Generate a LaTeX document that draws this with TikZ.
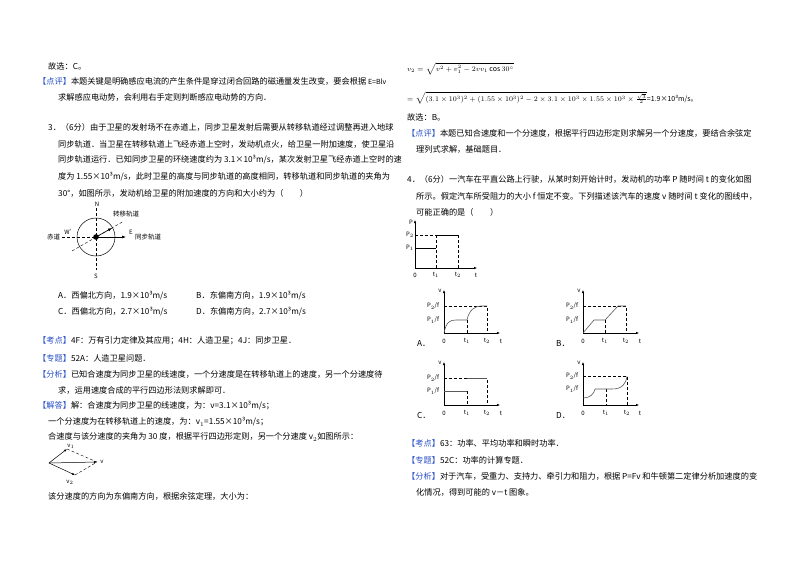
\documentclass[tikz,border=0pt]{standalone}
\usepackage{fontspec}
\setmainfont{Noto Sans CJK SC}
\usetikzlibrary{arrows.meta}
\definecolor{hb}{RGB}{40,80,200}
\newcommand{\hb}[1]{\textcolor{hb}{【#1】}}
\begin{document}
\begin{tikzpicture}[x=1pt,y=-1pt,
  t/.style={anchor=west,inner sep=0pt,font=\fontsize{8.2}{10}\selectfont},
  s/.style={inner sep=0pt,font=\fontsize{6}{7}\selectfont\itshape},
  ax/.style={line width=0.5pt,-{Latex[length=3pt,width=2.5pt]}},
  dsh/.style={densely dashed,line width=0.4pt},
  cur/.style={line width=0.6pt,gray!70!black}]
\useasboundingbox[fill=white] (0,0) rectangle (800,565);
% left column
\node[t] (l1) at (48,66) {故选：C。};
\node[t] (l2) at (38,81) {\hb{点评}本题关键是明确感应电流的产生条件是穿过闭合回路的磁通量发生改变，要会根据 {\scriptsize E=Blv}};
\node[t] (l3) at (58,97) {求解感应电动势，会利用右手定则判断感应电动势的方向．};
\node[t] (l4) at (48,127) {3．（6分）由于卫星的发射场不在赤道上，同步卫星发射后需要从转移轨道经过调整再进入地球};
\node[t] (l5) at (58,144) {同步轨道．当卫星在转移轨道上飞经赤道上空时，发动机点火，给卫星一附加速度，使卫星沿};
\node[t] (l6) at (58,160) {同步轨道运行．已知同步卫星的环绕速度约为 3.1×10³m/s，某次发射卫星飞经赤道上空时的速};
\node[t] (l7) at (58,177) {度为 1.55×10³m/s，此时卫星的高度与同步轨道的高度相同，转移轨道和同步轨道的夹角为};
\node[t] (l8) at (58,193) {30°，如图所示，发动机给卫星的附加速度的方向和大小约为（　　）};
% figure 1
\coordinate (O) at (96,237);
\draw[line width=0.5pt] (O) circle (19);
\draw[dsh] (96,208) -- (96,270);
\draw[dsh] (62,237) -- (122,237);
\draw[dsh] (72,251) -- (124,221);
\fill (O) circle (2.8);
\draw[line width=0.6pt,-{Latex[length=4pt]}] (O) -- (126,237);
\draw[line width=0.6pt,-{Latex[length=4pt]}] (O) -- (112,228);
\node[s] (nN) at (97,204) {N};
\node[s] (nS) at (96,276) {S};
\node[s] (nE) at (131,232) {E};
\node[s] (nW) at (70,232) {W'};
\node[t,font=\fontsize{6.5}{7}\selectfont] (eq) at (47,237) {赤道};
\node[t,font=\fontsize{6.5}{7}\selectfont] (tb) at (135,237) {同步轨道};
\node[t,font=\fontsize{6.5}{7}\selectfont] (zy) at (113,214) {转移轨道};
\node[t] (oA) at (58,296) {A．西偏北方向，1.9×10³m/s};
\node[t] (oB) at (196,296) {B．东偏南方向，1.9×10³m/s};
\node[t] (oC) at (58,312) {C．西偏北方向，2.7×10³m/s};
\node[t] (oD) at (196,312) {D．东偏南方向，2.7×10³m/s};
\node[t] (l9) at (38,341) {\hb{考点}4F：万有引力定律及其应用；4H：人造卫星；4J：同步卫星．};
\node[t] (l10) at (38,358) {\hb{专题}52A：人造卫星问题．};
\node[t] (l11) at (38,374) {\hb{分析}已知合速度为同步卫星的线速度，一个分速度是在转移轨道上的速度，另一个分速度待};
\node[t] (l12) at (58,390) {求，运用速度合成的平行四边形法则求解即可．};
\node[t] (l13) at (38,406) {\hb{解答}解：合速度为同步卫星的线速度，为：v=3.1×10³m/s；};
\node[t] (l14) at (48,422) {一个分速度为在转移轨道上的速度，为：v$_1$=1.55×10³m/s；};
\node[t] (l15) at (48,437) {合速度与该分速度的夹角为 30 度，根据平行四边形定则，另一个分速度 v$_2$如图所示：};
% vector figure
\coordinate (V0) at (49,463);
\coordinate (V) at (97,462);
\coordinate (V1) at (67,449);
\coordinate (V2) at (75,475);
\draw[line width=0.5pt,-{Latex[length=3pt]}] (V0) -- (V);
\draw[line width=0.5pt,-{Latex[length=3pt]}] (V0) -- (V1);
\draw[line width=0.5pt,-{Latex[length=3pt]}] (V0) -- (V2);
\draw[dsh] (V1) -- (V);
\draw[dsh] (V2) -- (V);
\node[s] (lv) at (102,462) {v};
\node[s] (lv1) at (71,446) {v$_1$};
\node[s] (lv2) at (70,482) {v$_2$};
\node[t] (l16) at (48,496) {该分速度的方向为东偏南方向，根据余弦定理，大小为：};
% right column
\node[t,font=\fontsize{7}{8}\selectfont] (r1) at (407,69) {$v_2=\sqrt{v^2+v_1^2-2vv_1\cos30^\circ}$};
\node[t,font=\fontsize{7}{8}\selectfont] (r2) at (407,98) {$=\sqrt{(3.1\times10^3)^2+(1.55\times10^3)^2-2\times3.1\times10^3\times1.55\times10^3\times\frac{\sqrt3}{2}}$=1.9×10³m/s。};
\node[t] (r3) at (407,117) {故选：B。};
\node[t] (r4) at (407,133) {\hb{点评}本题已知合速度和一个分速度，根据平行四边形定则求解另一个分速度，要结合余弦定};
\node[t] (r5) at (416,149) {理列式求解，基础题目．};
\node[t] (r6) at (407,179) {4．（6分）一汽车在平直公路上行驶，从某时刻开始计时，发动机的功率 P 随时间 t 的变化如图};
\node[t] (r7) at (416,196) {所示。假定汽车所受阻力的大小 f 恒定不变。下列描述该汽车的速度 v 随时间 t 变化的图线中，};
\node[t] (r8) at (416,212) {可能正确的是（　　）};
% P-t graph
\draw[ax] (415,268) -- (415,220);
\draw[ax] (415,268) -- (477,268);
\draw[dsh] (415,235) -- (436,235);
\draw[dsh] (436,235) -- (436,268);
\draw[dsh] (458,235) -- (458,268);
\draw[line width=0.5pt] (415,248) -- (436,248);
\draw[line width=0.5pt] (436,235) -- (458,235);
\node[s] (pP) at (411,222) {P};
\node[s] (pP2) at (410,235) {P$_2$};
\node[s] (pP1) at (410,248) {P$_1$};
\node[s] (p0) at (415,275) {0};
\node[s] (pt1) at (436,275) {t$_1$};
\node[s] (pt2) at (458,275) {t$_2$};
\node[s] (pt) at (476,275) {t};
% generic v-t axes
\foreach \ox/\oy/\ty/\ta/\tb/\pa/\pb/\lab [count=\i] in {444/333/290/467/487/306/320/A,583/333/290/605/626/306/320/B,444/405/362/467/487/378/391/C,583/405/362/606/627/376/389/D}{
  \draw[ax] (\ox,\oy) -- (\ox,\ty);
  \draw[ax] (\ox,\oy) -- (\ox+56,\oy);
  \draw[dsh] (\ox,\pa) -- (\tb,\pa) -- (\tb,\oy);
  \draw[dsh] (\ta,\pb) -- (\ta,\oy);
  \node[s] at (\ox-4,\ty+1) {v};
  \node[s] at (\ox-11,\pa) {P$_2$/f};
  \node[s] at (\ox-11,\pb) {P$_1$/f};
  \node[s] at (\ox,\oy+8) {0};
  \node[s] at (\ta,\oy+8) {t$_1$};
  \node[s] at (\tb,\oy+8) {t$_2$};
  \node[s] at (\ox+57,\oy+8) {t};
  \node[t] at (\ox-27,\oy+10) {\lab．};
}
% A
\draw[cur] (444,333) .. controls (446,322) and (450,320) .. (456,320) -- (467,320) .. controls (469,310) and (475,306) .. (481,306) -- (487,306);
% B
\draw[cur] (583,333) -- (594,320) -- (605,320) -- (618,306) -- (626,306);
% C
\draw[cur] (444,391) -- (467,391);
\draw[cur] (467,378) -- (487,378);
% D
\draw[cur] (583,398) .. controls (590,398) and (594,394) .. (595,389) -- (606,389) -- (612,389) .. controls (622,389) and (626,384) .. (627,376);
\node[t] (r9) at (407,443) {\hb{考点}63：功率、平均功率和瞬时功率．};
\node[t] (r10) at (407,460) {\hb{专题}52C：功率的计算专题．};
\node[t] (r11) at (407,476) {\hb{分析}对于汽车，受重力、支持力、牵引力和阻力，根据 P=Fv 和牛顿第二定律分析加速度的变};
\node[t] (r12) at (416,492) {化情况，得到可能的 v－t 图象。};
\end{tikzpicture}
\end{document}
